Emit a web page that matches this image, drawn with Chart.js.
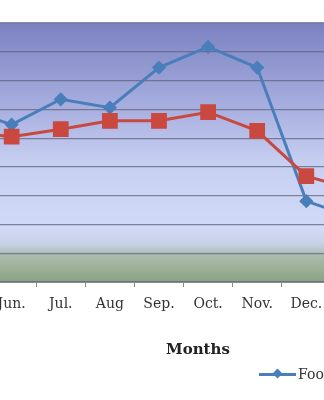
<!DOCTYPE html>
<html>
<head>
<meta charset="utf-8">
<script src="https://cdn.jsdelivr.net/npm/chart.js@4"></script>
<style>
    body { margin: 0; width: 324px; height: 400px; overflow: hidden; background: #fff; position: relative; }
    #wrap { position: absolute; left: -74px; top: 0; width: 466px; height: 400px; }
    #axisTitle { position: absolute; left: 138px; top: 340px; width: 120px; text-align: center;
        font: bold 15px "DejaVu Serif", serif; line-height: 18px; color: #222; }
    #legend { position: absolute; left: 259px; top: 366px; display: flex; white-space: nowrap;
        font: 14px "DejaVu Serif", serif; color: #333; line-height: 16px; }
    .item { display: flex; align-items: center; margin-right: 14px; }
    .mark { position: relative; width: 37px; height: 16px; margin-right: 2px; }
    .mark .ln { position: absolute; left: 0; right: 0; top: 7px; height: 3px; }
    .mark .pt { position: absolute; left: 15px; top: 4px; width: 7px; height: 7px; transform: rotate(45deg); }
</style>
</head>
<body>
<div id="wrap"><canvas id="chart" width="466" height="400"></canvas></div>
<div id="axisTitle">Months</div>
<div id="legend"></div>
<script>
const months = ['May.', 'Jun.', 'Jul.', 'Aug', 'Sep.', 'Oct.', 'Nov.', 'Dec.', 'Jan.'];
const foodValues = [60.5, 54.7, 63.5, 60.6, 74.5, 81.7, 74.5, 28.1, 22.2];
const nonFoodValues = [52.5, 50.5, 53.1, 56.0, 56.0, 59.0, 52.5, 36.8, 32.0];
const yTicks = [0, 10, 20, 30, 40, 50, 60, 70, 80, 90];

const blue = '#4a7ebb';
const red = '#c9483f';

// plot background: blue at top fading to pale, green band at the bottom
const plotBackground = {
    id: 'plotBackground',
    beforeDraw(chart) {
        const { ctx, chartArea: a } = chart;
        const g = ctx.createLinearGradient(0, a.top, 0, a.bottom);
        g.addColorStop(0, '#7b81c0');
        g.addColorStop(0.3, '#a4abdd');
        g.addColorStop(0.55, '#c8d0f2');
        g.addColorStop(0.8, '#d2daf8');
        g.addColorStop(0.855, '#c6d0e4');
        g.addColorStop(0.89, '#aebeb4');
        g.addColorStop(0.95, '#9bb095');
        g.addColorStop(1, '#8aa185');
        ctx.save();
        ctx.fillStyle = g;
        ctx.fillRect(a.left, a.top, a.right - a.left, a.bottom - a.top);
        ctx.restore();
    }
};

const chart = new Chart(document.getElementById('chart'), {
    type: 'line',
    data: {
        labels: months,
        datasets: [
            {
                label: 'Food',
                data: foodValues,
                borderColor: blue,
                backgroundColor: blue,
                borderWidth: 3,
                pointStyle: 'rectRot',
                pointRadius: 5,
                tension: 0,
                order: 1
            },
            {
                label: 'Non-food',
                data: nonFoodValues,
                borderColor: red,
                backgroundColor: red,
                borderWidth: 3,
                pointStyle: 'rect',
                pointRadius: 9,
                tension: 0,
                order: 0
            }
        ]
    },
    options: {
        responsive: false,
        animation: false,
        layout: { padding: { left: 6, right: 10, top: 23, bottom: 78 } },
        plugins: { legend: { display: false }, tooltip: { enabled: false } },
        scales: {
            x: {
                offset: true,
                afterFit: s => { s.height = 40; s.paddingLeft = 0; s.paddingRight = 0; },
                grid: { offset: true, drawOnChartArea: false, tickLength: 5, color: '#8a8a8a' },
                border: { display: true, color: '#8a8a8a', width: 1 },
                ticks: {
                    autoSkip: false, maxRotation: 0, padding: 9, color: '#333',
                    font: { family: '"DejaVu Serif", serif', size: 14 }
                }
            },
            y: {
                min: yTicks[0],
                max: yTicks[yTicks.length - 1],
                afterFit: s => { s.width = 0; },
                afterBuildTicks: s => { s.ticks = yTicks.map(v => ({ value: v })); },
                ticks: { display: false },
                grid: { color: 'rgba(95,100,125,0.75)', lineWidth: 1.2, drawTicks: false },
                border: { display: false }
            }
        }
    },
    plugins: [plotBackground]
});

// legend built from the datasets
const legend = document.getElementById('legend');
chart.data.datasets.forEach(ds => {
    const item = document.createElement('div');
    item.className = 'item';
    const mark = document.createElement('span');
    mark.className = 'mark';
    const ln = document.createElement('span');
    ln.className = 'ln';
    ln.style.background = ds.borderColor;
    const pt = document.createElement('span');
    pt.className = 'pt';
    pt.style.background = ds.borderColor;
    if (ds.pointStyle === 'rect') { pt.style.transform = 'none'; }
    mark.appendChild(ln);
    mark.appendChild(pt);
    item.appendChild(mark);
    item.appendChild(document.createTextNode(ds.label));
    legend.appendChild(item);
});
</script>
</body>
</html>
